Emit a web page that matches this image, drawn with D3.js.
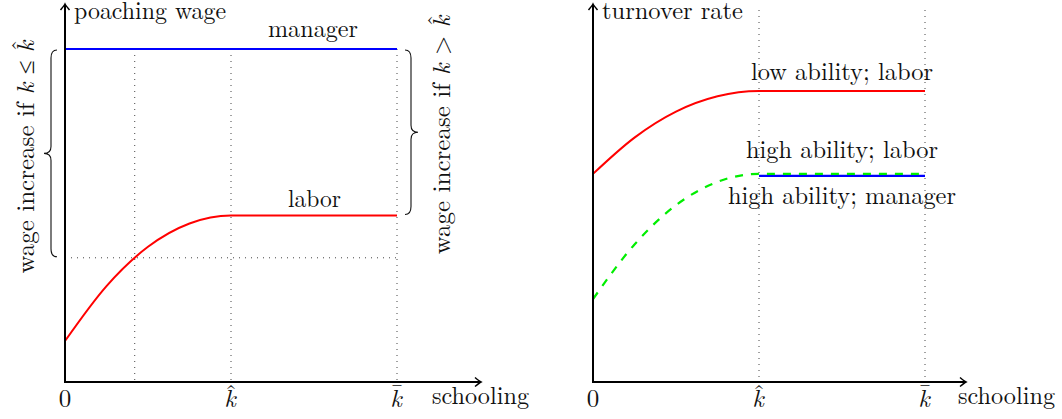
<!DOCTYPE html>
<html>
<head>
<meta charset="utf-8">
<script src="https://cdn.jsdelivr.net/npm/d3@7"></script>
<style>
  html, body { margin: 0; padding: 0; background: #fff; }
  svg { display: block; }
</style>
</head>
<body>
<script>
// ---------------- data ----------------
const schooling      = [0, 0.125, 0.25, 0.375, 0.5, 0.75, 1];   // k grid (k-hat = 0.5, k-bar = 1)
const laborWage      = [0.123, 0.288, 0.406, 0.476, 0.5, 0.5, 0.5];
const managerWage    = [1, 1, 1, 1, 1, 1, 1];
const lowLaborTurn   = [0.625, 0.734, 0.812, 0.858, 0.874, 0.874, 0.874];
const highLaborTurn  = [0.249, 0.413, 0.531, 0.601, 0.625, 0.625, 0.625];
const highMgrK       = [0.5, 0.75, 1];
const highMgrTurn    = [0.619, 0.619, 0.619];
const kHat = 0.5, kBar = 1, kCross = 0.21, wageCross = 0.373;
const xTickValues = [0, kHat, kBar];
const xTickAccents = ["", "ˆ", "¯"];   // "0", k-hat, k-bar

// ---------------- setup ----------------
const W = 1062, H = 419;
const FONT = "'Latin Modern Roman', 'Liberation Serif', serif";
const FS = 25;
const svg = d3.select("body").append("svg").attr("width", W).attr("height", H)
  .attr("font-family", FONT).attr("fill", "#111");

const y = d3.scaleLinear().domain([0, 1]).range([382, 49]);
const xL = d3.scaleLinear().domain([0, 1]).range([65, 397]);
const xR = d3.scaleLinear().domain([0, 1]).range([593, 925]);

const line = (xs) => d3.line().x(d => xs(d[0])).y(d => y(d[1])).curve(d3.curveMonotoneX);
const zip = (a, b) => a.map((v, i) => [v, b[i]]);

function arrowUp(g, x, yy) {
  g.append("path")
    .attr("d", `M${x-4.5},${yy+6} C${x-2},${yy+3} ${x-0.6},${yy+1.2} ${x},${yy} C${x+0.6},${yy+1.2} ${x+2},${yy+3} ${x+4.5},${yy+6}`)
    .attr("fill", "none").attr("stroke", "#000").attr("stroke-width", 1.5);
}
function arrowRight(g, x, yy) {
  g.append("path")
    .attr("d", `M${x-6},${yy-4.5} C${x-3},${yy-2} ${x-1.2},${yy-0.6} ${x},${yy} C${x-1.2},${yy+0.6} ${x-3},${yy+2} ${x-6},${yy+4.5}`)
    .attr("fill", "none").attr("stroke", "#000").attr("stroke-width", 1.5);
}
function dotted(g, x1, y1, x2, y2) {
  g.append("line").attr("x1", x1).attr("y1", y1).attr("x2", x2).attr("y2", y2)
    .attr("stroke", "#444").attr("stroke-width", 1).attr("stroke-dasharray", "1,5");
}
function label(g, txt, x, yy, len, anchor) {
  const t = g.append("text").attr("x", x).attr("y", yy).attr("font-size", FS)
    .attr("text-anchor", anchor || "middle").text(txt);
  if (len) t.attr("textLength", len).attr("lengthAdjust", "spacingAndGlyphs");
  return t;
}
function tickLabels(g, xs) {
  xTickValues.forEach((v, i) => {
    const cx = xs(v);
    if (i === 0) {
      label(g, "0", cx, 407);
    } else {
      const t = g.append("text").attr("x", cx - 6.8).attr("y", 407).attr("font-size", FS)
        .attr("text-anchor", "start");
      t.append("tspan").attr("font-style", "italic").text("k");
      t.append("tspan").attr("dx", "-0.44em").attr("dy", i === 1 ? "-0.22em" : "-0.26em")
        .text(xTickAccents[i]);
    }
  });
}
function axes(g, xs, xEnd, yLabel, yLabelLen, schoolX) {
  const x0 = xs(0), yTop = 5, yBase = y(0);
  g.append("line").attr("x1", x0).attr("y1", yBase + 1).attr("x2", x0).attr("y2", yTop)
    .attr("stroke", "#000").attr("stroke-width", 2);
  g.append("line").attr("x1", x0 - 1).attr("y1", yBase).attr("x2", xEnd).attr("y2", yBase)
    .attr("stroke", "#000").attr("stroke-width", 2);
  arrowUp(g, x0, yTop - 1);
  arrowRight(g, xEnd + 1, yBase);
  label(g, yLabel, x0 + 9, 19, yLabelLen, "start");
  label(g, "schooling", schoolX, 404, 97, "start");
  tickLabels(g, xs);
}

// ---------------- left panel ----------------
const gL = svg.append("g");
dotted(gL, xL(kCross), y(1), xL(kCross), y(0));
dotted(gL, xL(kHat), y(1), xL(kHat), y(0));
dotted(gL, xL(kBar), y(1), xL(kBar), y(0));
dotted(gL, xL(0), y(wageCross), xL(kBar), y(wageCross));

gL.append("path").datum(zip(schooling, managerWage)).attr("d", line(xL))
  .attr("fill", "none").attr("stroke", "#0000ff").attr("stroke-width", 2);
gL.append("path").datum(zip(schooling, laborWage)).attr("d", line(xL))
  .attr("fill", "none").attr("stroke", "#ff0000").attr("stroke-width", 2);

axes(gL, xL, 480, "poaching wage", 152, 432);
label(gL, "manager", 313, 37, 90);
label(gL, "labor", 314.5, 207, 53);

// braces + rotated notes
const yTopB = y(1) + 1, yLowB = y(wageCross) - 1, yLabB = y(0.5) - 1;
(function () {
  const xe = 57, xs_ = 51, xt = 44, m = (yTopB + yLowB) / 2;
  gL.append("path")
    .attr("d", `M${xe},${yTopB} Q${xs_},${yTopB} ${xs_},${yTopB + 8} L${xs_},${m - 7} Q${xs_},${m} ${xt},${m} Q${xs_},${m} ${xs_},${m + 7} L${xs_},${yLowB - 8} Q${xs_},${yLowB} ${xe},${yLowB}`)
    .attr("fill", "none").attr("stroke", "#111").attr("stroke-width", 1.1);
  const xe2 = 405, xs2 = 411, xt2 = 418, m2 = (yTopB + yLabB) / 2;
  gL.append("path")
    .attr("d", `M${xe2},${yTopB} Q${xs2},${yTopB} ${xs2},${yTopB + 8} L${xs2},${m2 - 7} Q${xs2},${m2} ${xt2},${m2} Q${xs2},${m2} ${xs2},${m2 + 7} L${xs2},${yLabB - 8} Q${xs2},${yLabB} ${xe2},${yLabB}`)
    .attr("fill", "none").attr("stroke", "#111").attr("stroke-width", 1.1);

  function rotLabel(cx, cy, rel) {
    const t = gL.append("text").attr("transform", `translate(${cx},${cy}) rotate(-90)`)
      .attr("font-size", FS).attr("text-anchor", "middle");
    t.append("tspan").text("wage increase if ");
    t.append("tspan").attr("font-style", "italic").text("k");
    t.append("tspan").text(" " + rel + " ");
    t.append("tspan").attr("font-style", "italic").text("k");
    t.append("tspan").attr("dx", "-0.44em").attr("dy", "-0.22em").text("ˆ");
  }
  rotLabel(34, m + 3, "≤");
  rotLabel(450, m2 + 2, ">");
})();

// ---------------- right panel ----------------
const gR = svg.append("g");
dotted(gR, xR(kHat), 10, xR(kHat), y(0));
dotted(gR, xR(kBar), 10, xR(kBar), y(0));

gR.append("path").datum(zip(highMgrK, highMgrTurn)).attr("d", line(xR))
  .attr("fill", "none").attr("stroke", "#0000ff").attr("stroke-width", 2.4);
gR.append("path").datum(zip(schooling, lowLaborTurn)).attr("d", line(xR))
  .attr("fill", "none").attr("stroke", "#ff0000").attr("stroke-width", 2);
gR.append("path").datum(zip(schooling, highLaborTurn)).attr("d", line(xR))
  .attr("fill", "none").attr("stroke", "#00ee00").attr("stroke-width", 2.2)
  .attr("stroke-dasharray", "8,8");

axes(gR, xR, 965, "turnover rate", 141, 958);
label(gR, "low ability; labor", 842, 80, 182);
label(gR, "high ability; labor", 842, 158, 192);
label(gR, "high ability; manager", 842, 204, 228);
</script>
</body>
</html>
